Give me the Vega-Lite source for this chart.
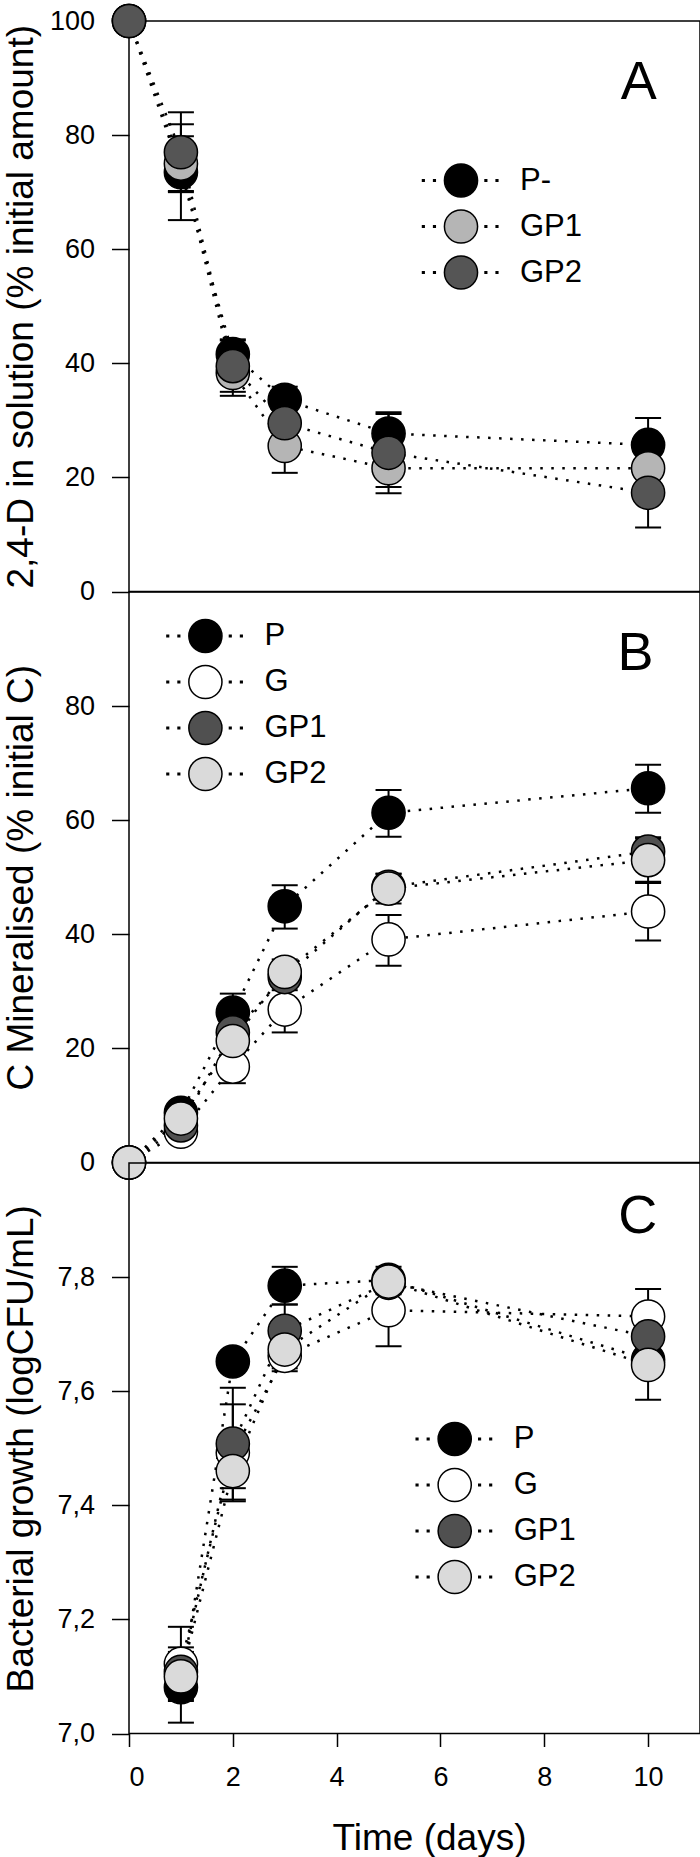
{
  "$schema": "https://vega.github.io/schema/vega-lite/v6.json",
  "padding": {"left": 1, "top": 0, "right": 0, "bottom": 0},
  "bounds": "flush",
  "spacing": 0,
  "config": {
    "font": "Liberation Sans",
    "view": {"stroke": "black", "strokeWidth": 1.5},
    "axis": {"grid": false, "domain": false, "tickColor": "black", "tickWidth": 1.5, "labelColor": "black", "titleColor": "black", "labelFontSize": 27, "titleFontSize": 37, "titleFontWeight": "normal", "labelFont": "Liberation Sans", "titleFont": "Liberation Sans"},
    "axisY": {"tickSize": 17.5, "labelPadding": 17, "titleX": -89},
    "axisX": {"tickSize": 13, "labelPadding": 18, "titlePadding": 30, "titleX": 300},
    "legend": {"title": null, "orient": "none", "symbolSize": 1100, "symbolStrokeColor": "black", "symbolStrokeWidth": 1.5, "symbolOpacity": 1, "labelFontSize": 31, "labelOffset": 41.5, "rowPadding": 5, "padding": 0, "labelColor": "black", "labelFont": "Liberation Sans", "labelLimit": 300, "symbolType": "M-1,0A1,1 0 1,1 1,0A1,1 0 1,1 -1,0Z M-2.32,-0.05h0.1v0.1h-0.1Z M-1.65,-0.05h0.1v0.1h-0.1Z M1.45,-0.05h0.1v0.1h-0.1Z M2.12,-0.05h0.1v0.1h-0.1Z"}
  },
  "datasets": {
    "A": [
      {"s": "P-", "day": 0, "v": 100, "lo": null, "hi": null},
      {"s": "P-", "day": 1, "v": 73.5, "lo": 65.1, "hi": 81.9},
      {"s": "P-", "day": 2, "v": 41.6, "lo": 39.0, "hi": 44.2},
      {"s": "P-", "day": 3, "v": 33.6, "lo": 31.3, "hi": 35.9},
      {"s": "P-", "day": 5, "v": 27.7, "lo": 24.3, "hi": 31.1},
      {"s": "P-", "day": 10, "v": 25.7, "lo": 21.0, "hi": 30.4},
      {"s": "GP1", "day": 0, "v": 100, "lo": null, "hi": null},
      {"s": "GP1", "day": 1, "v": 75.0, "lo": 70.2, "hi": 79.8},
      {"s": "GP1", "day": 2, "v": 38.3, "lo": 34.3, "hi": 42.3},
      {"s": "GP1", "day": 3, "v": 25.5, "lo": 20.8, "hi": 30.2},
      {"s": "GP1", "day": 5, "v": 21.6, "lo": 18.3, "hi": 24.9},
      {"s": "GP1", "day": 10, "v": 21.6, "lo": 20.1, "hi": 23.1},
      {"s": "GP2", "day": 0, "v": 100, "lo": null, "hi": null},
      {"s": "GP2", "day": 1, "v": 77.0, "lo": 70.0, "hi": 84.0},
      {"s": "GP2", "day": 2, "v": 39.5, "lo": 35.0, "hi": 44.0},
      {"s": "GP2", "day": 3, "v": 29.5, "lo": 25.3, "hi": 33.7},
      {"s": "GP2", "day": 5, "v": 24.3, "lo": 17.2, "hi": 31.4},
      {"s": "GP2", "day": 10, "v": 17.3, "lo": 11.2, "hi": 23.4}
    ],
    "B": [
      {"s": "P", "day": 0, "v": 0, "lo": null, "hi": null},
      {"s": "P", "day": 1, "v": 8.7, "lo": 7.5, "hi": 9.9},
      {"s": "P", "day": 2, "v": 26.3, "lo": 23.0, "hi": 29.6},
      {"s": "P", "day": 3, "v": 44.9, "lo": 41.0, "hi": 48.6},
      {"s": "P", "day": 5, "v": 61.3, "lo": 57.1, "hi": 65.3},
      {"s": "P", "day": 10, "v": 65.6, "lo": 61.3, "hi": 69.7},
      {"s": "G", "day": 0, "v": 0, "lo": null, "hi": null},
      {"s": "G", "day": 1, "v": 5.4, "lo": 4.4, "hi": 6.4},
      {"s": "G", "day": 2, "v": 16.8, "lo": 13.9, "hi": 19.7},
      {"s": "G", "day": 3, "v": 26.8, "lo": 22.8, "hi": 30.8},
      {"s": "G", "day": 5, "v": 39.1, "lo": 34.5, "hi": 43.4},
      {"s": "G", "day": 10, "v": 44.0, "lo": 38.9, "hi": 49.0},
      {"s": "GP1", "day": 0, "v": 0, "lo": null, "hi": null},
      {"s": "GP1", "day": 1, "v": 6.5, "lo": 5.5, "hi": 7.5},
      {"s": "GP1", "day": 2, "v": 22.8, "lo": 20.5, "hi": 25.1},
      {"s": "GP1", "day": 3, "v": 32.5, "lo": 30.2, "hi": 34.8},
      {"s": "GP1", "day": 5, "v": 48.3, "lo": 46.0, "hi": 50.6},
      {"s": "GP1", "day": 10, "v": 54.5, "lo": 52.0, "hi": 57.0},
      {"s": "GP2", "day": 0, "v": 0, "lo": null, "hi": null},
      {"s": "GP2", "day": 1, "v": 7.7, "lo": 6.7, "hi": 8.7},
      {"s": "GP2", "day": 2, "v": 21.3, "lo": 19.3, "hi": 23.3},
      {"s": "GP2", "day": 3, "v": 33.4, "lo": 31.2, "hi": 35.6},
      {"s": "GP2", "day": 5, "v": 48.0, "lo": 45.4, "hi": 50.6},
      {"s": "GP2", "day": 10, "v": 53.0, "lo": 49.2, "hi": 56.8}
    ],
    "C": [
      {"s": "P", "day": 1, "v": 7.081, "lo": 7.019, "hi": 7.143},
      {"s": "P", "day": 2, "v": 7.652, "lo": 7.645, "hi": 7.66},
      {"s": "P", "day": 3, "v": 7.785, "lo": 7.752, "hi": 7.818},
      {"s": "P", "day": 5, "v": 7.795, "lo": 7.78, "hi": 7.81},
      {"s": "P", "day": 10, "v": 7.655, "lo": 7.63, "hi": 7.68},
      {"s": "G", "day": 1, "v": 7.122, "lo": 7.057, "hi": 7.187},
      {"s": "G", "day": 2, "v": 7.492, "lo": 7.407, "hi": 7.577},
      {"s": "G", "day": 3, "v": 7.662, "lo": 7.635, "hi": 7.689},
      {"s": "G", "day": 5, "v": 7.742, "lo": 7.679, "hi": 7.805},
      {"s": "G", "day": 10, "v": 7.731, "lo": 7.683, "hi": 7.779},
      {"s": "GP1", "day": 1, "v": 7.108, "lo": 7.065, "hi": 7.151},
      {"s": "GP1", "day": 2, "v": 7.508, "lo": 7.41, "hi": 7.606},
      {"s": "GP1", "day": 3, "v": 7.706, "lo": 7.66, "hi": 7.752},
      {"s": "GP1", "day": 5, "v": 7.79, "lo": 7.77, "hi": 7.81},
      {"s": "GP1", "day": 10, "v": 7.696, "lo": 7.67, "hi": 7.72},
      {"s": "GP2", "day": 1, "v": 7.1, "lo": 7.06, "hi": 7.14},
      {"s": "GP2", "day": 2, "v": 7.46, "lo": 7.43, "hi": 7.49},
      {"s": "GP2", "day": 3, "v": 7.673, "lo": 7.64, "hi": 7.706},
      {"s": "GP2", "day": 5, "v": 7.792, "lo": 7.775, "hi": 7.818},
      {"s": "GP2", "day": 10, "v": 7.646, "lo": 7.585, "hi": 7.707}
    ]
  },
  "vconcat": [
    {
      "width": 571, "height": 570.5,
      "data": {"name": "A"},
      "layer": [
        {"mark": {"type": "line", "stroke": "black", "strokeWidth": 2.5, "strokeDash": [2.5, 8.5]},
         "encoding": {"x": {"field": "day", "type": "quantitative", "scale": {"domain": [0, 11], "nice": false}, "axis": null},
                      "y": {"field": "v", "type": "quantitative", "scale": {"domain": [0, 100], "nice": false}, "axis": {"values": [0, 20, 40, 60, 80, 100], "title": "2,4-D in solution (% initial amount)"}},
                      "detail": {"field": "s"}}},
        {"transform": [{"filter": "datum.lo != null"}], "mark": {"type": "rule", "stroke": "black", "strokeWidth": 2},
         "encoding": {"x": {"field": "day", "type": "quantitative"}, "y": {"field": "lo", "type": "quantitative"}, "y2": {"field": "hi"}}},
        {"transform": [{"filter": "datum.lo != null"}], "mark": {"type": "tick", "orient": "horizontal", "size": 26, "thickness": 2, "color": "black", "opacity": 1},
         "encoding": {"x": {"field": "day", "type": "quantitative"}, "y": {"field": "lo", "type": "quantitative"}}},
        {"transform": [{"filter": "datum.lo != null"}], "mark": {"type": "tick", "orient": "horizontal", "size": 26, "thickness": 2, "color": "black", "opacity": 1},
         "encoding": {"x": {"field": "day", "type": "quantitative"}, "y": {"field": "hi", "type": "quantitative"}}},
        {"mark": {"type": "point", "shape": "circle", "filled": true, "size": 1100, "stroke": "black", "strokeWidth": 1.5, "opacity": 1},
         "encoding": {"x": {"field": "day", "type": "quantitative"}, "y": {"field": "v", "type": "quantitative"},
                      "fill": {"field": "s", "type": "nominal", "scale": {"domain": ["P-", "GP1", "GP2"], "range": ["#000000", "#b5b5b5", "#555555"]},
                               "legend": {"legendX": 314.5, "legendY": 142}}}},
        {"data": {"values": [{}]}, "mark": {"type": "text", "fontSize": 54, "align": "center", "baseline": "alphabetic", "color": "black"},
         "encoding": {"x": {"datum": 9.82}, "y": {"datum": 86.4}, "text": {"value": "A"}}}
      ]
    },
    {
      "width": 571, "height": 570.5,
      "data": {"name": "B"},
      "layer": [
        {"mark": {"type": "line", "stroke": "black", "strokeWidth": 2.5, "strokeDash": [2.5, 8.5]},
         "encoding": {"x": {"field": "day", "type": "quantitative", "scale": {"domain": [0, 11], "nice": false}, "axis": null},
                      "y": {"field": "v", "type": "quantitative", "scale": {"domain": [0, 100], "nice": false}, "axis": {"values": [0, 20, 40, 60, 80], "title": "C Mineralised (% initial C)"}},
                      "detail": {"field": "s"}}},
        {"transform": [{"filter": "datum.lo != null"}], "mark": {"type": "rule", "stroke": "black", "strokeWidth": 2},
         "encoding": {"x": {"field": "day", "type": "quantitative"}, "y": {"field": "lo", "type": "quantitative"}, "y2": {"field": "hi"}}},
        {"transform": [{"filter": "datum.lo != null"}], "mark": {"type": "tick", "orient": "horizontal", "size": 26, "thickness": 2, "color": "black", "opacity": 1},
         "encoding": {"x": {"field": "day", "type": "quantitative"}, "y": {"field": "lo", "type": "quantitative"}}},
        {"transform": [{"filter": "datum.lo != null"}], "mark": {"type": "tick", "orient": "horizontal", "size": 26, "thickness": 2, "color": "black", "opacity": 1},
         "encoding": {"x": {"field": "day", "type": "quantitative"}, "y": {"field": "hi", "type": "quantitative"}}},
        {"mark": {"type": "point", "shape": "circle", "filled": true, "size": 1100, "stroke": "black", "strokeWidth": 1.5, "opacity": 1},
         "encoding": {"x": {"field": "day", "type": "quantitative"}, "y": {"field": "v", "type": "quantitative"},
                      "fill": {"field": "s", "type": "nominal", "scale": {"domain": ["P", "G", "GP1", "GP2"], "range": ["#000000", "#ffffff", "#505050", "#dadada"]},
                               "legend": {"legendX": 58.9, "legendY": 26.5}}}},
        {"data": {"values": [{}]}, "mark": {"type": "text", "fontSize": 54, "align": "center", "baseline": "alphabetic", "color": "black"},
         "encoding": {"x": {"datum": 9.76}, "y": {"datum": 86.3}, "text": {"value": "B"}}}
      ]
    },
    {
      "width": 571, "height": 570.5,
      "data": {"name": "C"},
      "layer": [
        {"mark": {"type": "line", "stroke": "black", "strokeWidth": 2.5, "strokeDash": [2.5, 8.5]},
         "encoding": {"x": {"field": "day", "type": "quantitative", "scale": {"domain": [0, 11], "nice": false}, "axis": {"values": [0, 2, 4, 6, 8, 10], "title": "Time (days)"}},
                      "y": {"field": "v", "type": "quantitative", "scale": {"domain": [7, 8], "nice": false, "zero": false}, "axis": {"values": [7, 7.2, 7.4, 7.6, 7.8], "title": "Bacterial growth (logCFU/mL)", "labelExpr": "replace(format(datum.value, '.1f'), '.', ',')"}},
                      "detail": {"field": "s"}}},
        {"mark": {"type": "rule", "stroke": "black", "strokeWidth": 2},
         "encoding": {"x": {"field": "day", "type": "quantitative"}, "y": {"field": "lo", "type": "quantitative"}, "y2": {"field": "hi"}}},
        {"mark": {"type": "tick", "orient": "horizontal", "size": 26, "thickness": 2, "color": "black", "opacity": 1},
         "encoding": {"x": {"field": "day", "type": "quantitative"}, "y": {"field": "lo", "type": "quantitative"}}},
        {"mark": {"type": "tick", "orient": "horizontal", "size": 26, "thickness": 2, "color": "black", "opacity": 1},
         "encoding": {"x": {"field": "day", "type": "quantitative"}, "y": {"field": "hi", "type": "quantitative"}}},
        {"mark": {"type": "point", "shape": "circle", "filled": true, "size": 1100, "stroke": "black", "strokeWidth": 1.5, "opacity": 1},
         "encoding": {"x": {"field": "day", "type": "quantitative"}, "y": {"field": "v", "type": "quantitative"},
                      "fill": {"field": "s", "type": "nominal", "scale": {"domain": ["P", "G", "GP1", "GP2"], "range": ["#000000", "#ffffff", "#505050", "#dadada"]},
                               "legend": {"legendX": 308.2, "legendY": 258.5}}}},
        {"data": {"values": [{}]}, "mark": {"type": "text", "fontSize": 54, "align": "center", "baseline": "alphabetic", "color": "black"},
         "encoding": {"x": {"datum": 9.8}, "y": {"datum": 7.877}, "text": {"value": "C"}}}
      ]
    }
  ],
  "resolve": {"scale": {"x": "independent", "y": "independent", "fill": "independent"}, "legend": {"fill": "independent"}}
}
